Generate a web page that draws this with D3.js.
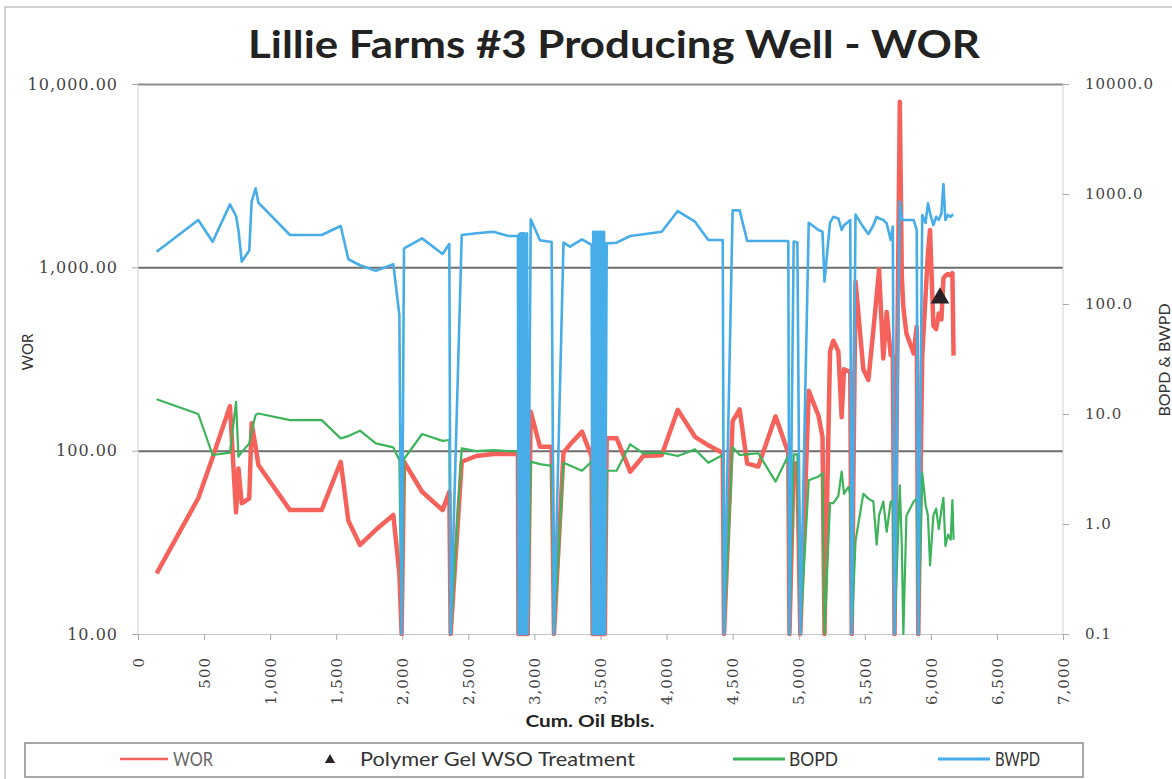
<!DOCTYPE html>
<html><head><meta charset="utf-8">
<script src="https://cdn.jsdelivr.net/npm/d3@7"></script>
<style>body{margin:0;background:#fff;overflow:hidden}</style>
</head><body><svg id="c" width="1172" height="779"></svg>
<script>
const cumOil = [141,456,565,696,742,760,785,842,860,890,911,1150,1390,1534,1592,1680,1800,1932,1978,1995,2013,2150,2305,2356,2366,2450,2560,2690,2803,
  2875,2879,2884,2889,2894,2899,2904,2909,2914,2919,2924,2929,2934,2939,2944,2949,
  2972,3042,3130,3148,3220,3269,3360,3433,
  3440,3445,3451,3457,3463,3469,3475,3481,3487,3493,3499,3503,3509,3515,3521,3527,3533,
  3547,3622,3725,3824,3963,4085,4215,4316,4425,4435,4500,4553,4610,4694,4825,4921,4930,4962,4990,5012,5076,5150,5180,5195,5237,5262,5300,5325,5343,5376,5390,5401,5430,5489,5527,5565,5590,5608,5640,5666,5696,5712,5725,5765,5780,5792,5815,5870,5893,5905,5935,5960,5978,5994,6019,6040,6060,6080,6095,6110,6130,6150,6163,6172];
const wor = [21.4,55,92,175,46,80,51.6,55,141,105,83.6,47.4,47.4,87,41.5,30.6,37,44.6,21.4,0,87,59.7,47.4,59.7,0,87,93.5,96,96,
  96,0,96,0,96,0,96,0,96,0,96,0,96,0,96,0,
  163,105,105,0,97.5,108,127,92.6,
  0,220,0,96,0,96,0,96,0,96,0,637,0,96,0,96,0,
  117,117,76.7,93.5,94.5,167,119,107,97,0,145,168,85,82,154,97,0,85,85,0,212,155,119,0,348,398,348,152,278,272,270,0,834,278,243,455,700,975,318,570,332,330,0,8000,900,600,436,339,475,0,330,700,1200,1600,480,460,560,520,870,900,920,900,930,330];
const bopd = [13.6,10.0,4.24,4.46,12.9,4.1,4.5,5.4,7.0,9.8,10.1,8.8,8.8,6.0,6.3,7.05,5.4,4.97,3.82,0,3.9,6.58,5.7,5.8,0,4.87,4.6,4.7,4.6,
  4.6,0,4.6,0,4.6,0,4.6,0,4.6,0,4.6,0,4.6,0,4.6,0,
  3.69,3.5,3.37,0,3.6,3.4,3.05,3.69,
  0,0.67,0,3.5,0,3.5,0,3.5,0,3.5,0,0.7,0,3.5,0,3.5,0,
  3.05,3.05,5.3,4.39,4.45,4.15,4.77,3.6,4.24,0,5.0,4.24,4.3,4.4,2.43,4.2,0,4.3,4.3,0,2.5,2.7,2.9,0,1.55,1.55,1.8,3.0,1.88,2.17,1.88,0,0.705,1.88,1.7,1.6,0.65,1.2,1.6,0.85,1.6,1.6,0,2.24,0.65,0,1.19,1.6,1.7,0,2.9,1.5,1.19,0.42,1.19,1.38,0.9,1.35,1.73,0.63,0.8,0.72,1.65,0.72];
const bwpd = [299,581,368,805,631,471,243,306,851,1127,834,424,424,512,255,225,200,230,79,0,321,395,285,351,0,424,440,454,415,
  415,0,430,0,440,0,440,0,440,0,440,0,360,0,440,0,
  589,380,366,0,361,332,387,344,
  0,454,0,454,0,454,0,454,0,454,0,454,0,454,0,454,0,
  356,361,415,430,454,700,560,382,382,0,710,710,374,374,374,374,0,370,362,0,548,470,454,160,548,620,600,471,520,560,580,0,650,500,433,520,620,600,580,540,382,505,0,851,600,580,580,580,471,0,645,548,823,667,521,620,580,667,1233,580,645,620,645,645];
const treatmentX = [6069];
const treatmentWOR = [680];
const xTicks = [0,500,1000,1500,2000,2500,3000,3500,4000,4500,5000,5500,6000,6500,7000];
const leftTicks = [10,100,1000,10000];
const rightTicks = [0.1,1,10,100,1000,10000];

const svg = d3.select('#c');
const L = 138, R = 1063, T = 84, B = 634;
const x = d3.scaleLinear([0,7000],[L,R]);
const yL = d3.scaleLog([10,10000],[B,T]).clamp(true);
const yR = d3.scaleLog([0.1,10000],[B,T]).clamp(true);
const sans = 'Lato, "Open Sans", sans-serif';
const serif = '"DejaVu Serif", serif';

// outer frame
svg.append('rect').attr('x',5).attr('y',7).attr('width',1200).attr('height',1000)
  .attr('fill','none').attr('stroke','#c4c4c4').attr('stroke-width',1.5);

// title
svg.append('text').attr('x',614).attr('y',58).attr('text-anchor','middle')
  .attr('textLength',732).attr('lengthAdjust','spacingAndGlyphs')
  .style('font-family',sans).style('font-weight','bold')
  .style('font-size','38px').style('fill','#222')
  .text('Lillie Farms #3 Producing Well - WOR');

// grid lines (left axis decades)
const grid = svg.append('g').attr('transform',`translate(${L},0)`)
  .call(d3.axisLeft(yL).tickValues(leftTicks).tickSize(-(R-L)).tickFormat(''));
grid.select('.domain').remove();
grid.selectAll('.tick line').attr('stroke', d => d===10 ? '#c8c8c8' : (d===10000 ? '#8a8a8a' : '#6e6e6e'))
  .attr('stroke-width', d => d===10 ? 1 : 2);

// vertical borders
svg.append('line').attr('x1',L).attr('x2',L).attr('y1',T).attr('y2',B).attr('stroke','#d0d0d0');
svg.append('line').attr('x1',R).attr('x2',R).attr('y1',T).attr('y2',B).attr('stroke','#d0d0d0');

// left axis labels
const la = svg.append('g').attr('transform',`translate(${L},0)`)
  .call(d3.axisLeft(yL).tickValues(leftTicks).tickSize(6).tickPadding(14).tickFormat(d3.format(',.2f')));
la.select('.domain').remove();
la.selectAll('.tick line').attr('stroke','#aaa');
la.selectAll('text').style('font-family',serif).style('font-size','16px').style('fill','#444')
  .style('letter-spacing','1px');

// right axis
const ra = svg.append('g').attr('transform',`translate(${R},0)`)
  .call(d3.axisRight(yR).tickValues(rightTicks).tickSize(6).tickPadding(16).tickFormat(d3.format('.1f')));
ra.select('.domain').remove();
ra.selectAll('.tick line').attr('stroke','#aaa');
ra.selectAll('text').style('font-family',serif).style('font-size','15px').style('fill','#444')
  .style('letter-spacing','1px');

// bottom axis
const ba = svg.append('g').attr('transform',`translate(0,${B})`)
  .call(d3.axisBottom(x).tickValues(xTicks).tickSize(6).tickFormat(d3.format(',')));
ba.select('.domain').remove();
ba.selectAll('.tick line').attr('stroke','#aaa');
ba.selectAll('text').attr('y',0).attr('x',0).attr('dy','0.35em')
  .attr('transform','translate(0,23) rotate(-90)').style('text-anchor','end')
  .style('font-family',serif).style('font-size','15px').style('fill','#444').style('letter-spacing','1px');

// axis titles
svg.append('text').attr('transform','translate(33,352) rotate(-90)').attr('text-anchor','middle')
  .style('font-family',sans).style('font-size','15px').style('fill','#333').text('WOR');
svg.append('text').attr('transform','translate(1170,360) rotate(-90)').attr('text-anchor','middle')
  .style('font-family',sans).style('font-size','16px').style('fill','#333').text('BOPD & BWPD');
svg.append('text').attr('x',590).attr('y',727).attr('text-anchor','middle')
  .attr('textLength',129).attr('lengthAdjust','spacingAndGlyphs')
  .style('font-family',sans).style('font-weight','bold').style('font-size','17px').style('fill','#222')
  .text('Cum. Oil Bbls.');

// series
const idx = d3.range(cumOil.length);
const lineL = arr => d3.line().x(i => x(cumOil[i])).y(i => yL(arr[i]));
const lineR = arr => d3.line().x(i => x(cumOil[i])).y(i => yR(arr[i]));
const colWOR = '#f4625b', colBOPD = '#3db35a', colBWPD = '#46ade8';
svg.append('path').attr('d', lineL(wor)(idx)).attr('fill','none').attr('stroke',colWOR)
  .attr('stroke-width',4.5).attr('stroke-linejoin','round');
svg.append('path').attr('d', lineR(bopd)(idx)).attr('fill','none').attr('stroke',colBOPD)
  .attr('stroke-width',2.2).attr('stroke-linejoin','round');
svg.append('path').attr('d', lineR(bwpd)(idx)).attr('fill','none').attr('stroke',colBWPD)
  .attr('stroke-width',2.6).attr('stroke-linejoin','round');

// treatment marker
const tri = d3.symbol().type(d3.symbolTriangle).size(150);
svg.selectAll('.trt').data(treatmentX).join('path').attr('class','trt')
  .attr('transform',(d,i)=>`translate(${x(d)},${yL(treatmentWOR[i])})`)
  .attr('d',tri()).attr('fill','#2a2226');

// legend
svg.append('rect').attr('x',25).attr('y',743).attr('width',1058).attr('height',34)
  .attr('fill','#fff').attr('stroke','#8c8c8c').attr('stroke-width',1.5);
const lg = svg.append('g').style('font-family',sans).style('font-size','19px').style('fill','#333');
const ly = 759;
const ltext = (tx, len, s, col) => lg.append('text').attr('x',tx).attr('y',ly).attr('dy','0.35em')
  .attr('textLength',len).attr('lengthAdjust','spacingAndGlyphs').style('fill',col||'#333').text(s);
lg.append('line').attr('x1',120).attr('x2',168).attr('y1',ly).attr('y2',ly).attr('stroke',colWOR).attr('stroke-width',2.5);
ltext(173,40,'WOR','#666');
lg.append('path').attr('transform',`translate(330,${ly+1})`).attr('d',d3.symbol().type(d3.symbolTriangle).size(45)()).attr('fill','#2a2226');
ltext(360,275,'Polymer Gel WSO Treatment');
lg.append('line').attr('x1',733).attr('x2',785).attr('y1',ly).attr('y2',ly).attr('stroke',colBOPD).attr('stroke-width',3);
ltext(789,49,'BOPD');
lg.append('line').attr('x1',938).attr('x2',990).attr('y1',ly).attr('y2',ly).attr('stroke',colBWPD).attr('stroke-width',3);
ltext(995,45,'BWPD');
</script></body></html>
